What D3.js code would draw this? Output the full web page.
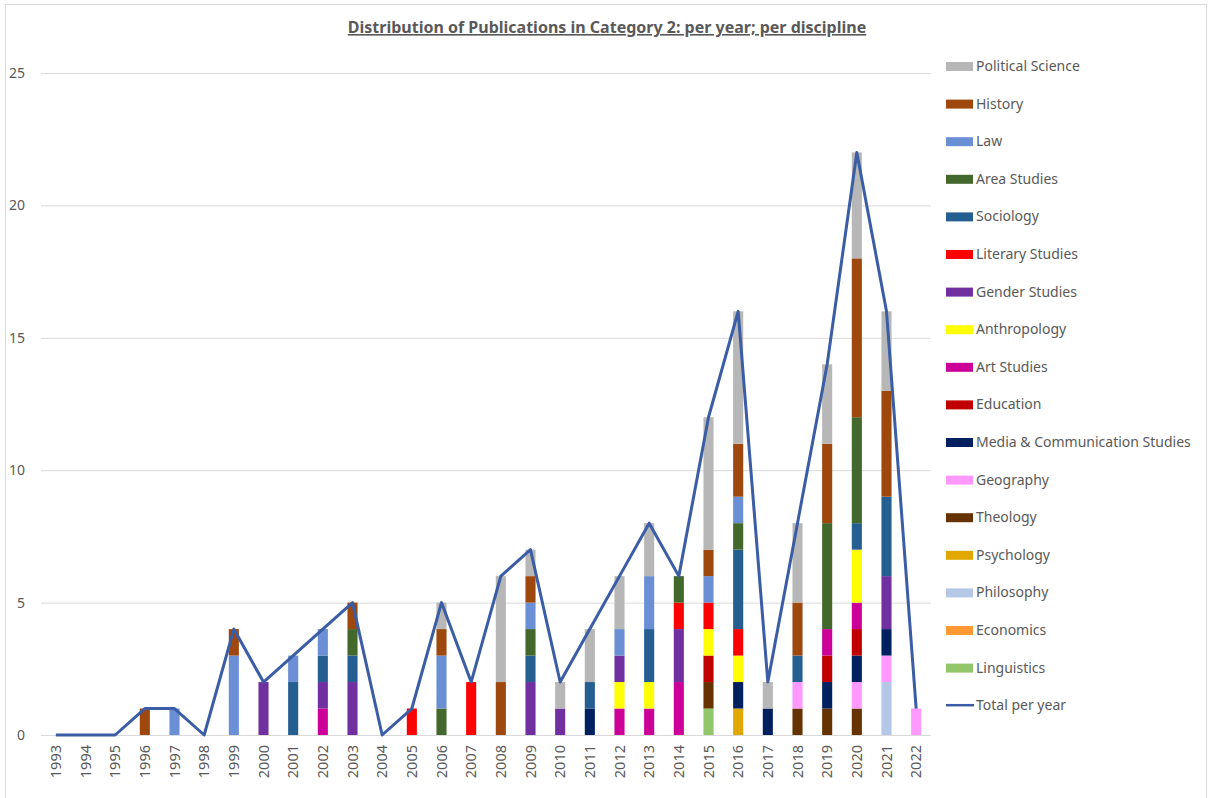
<!DOCTYPE html>
<html>
<head>
<meta charset="utf-8">
<script src="https://d3js.org/d3.v7.min.js"></script>
<style>
  body { margin: 0; background: #fff; font-family: "Noto Sans", sans-serif; }
  svg { display: block; }
</style>
</head>
<body>
<script>
// ---- data ----
const years = d3.range(1993, 2023).map(String);

const disciplines = ["Political Science", "History", "Law", "Area Studies", "Sociology",
  "Literary Studies", "Gender Studies", "Anthropology", "Art Studies", "Education",
  "Media & Communication Studies", "Geography", "Theology", "Psychology", "Philosophy",
  "Economics", "Linguistics"];

const colors = ["#b7b7b7", "#9e480e", "#6a8fd4", "#43682b", "#255e91",
  "#ff0000", "#7030a0", "#ffff00", "#cc0099", "#c00000",
  "#002060", "#ff99ff", "#663300", "#e0a800", "#b4c7e7",
  "#ff9933", "#92c66a"];

//                 1993 ...                                              ... 2022
const polSci     = [0,0,0,0,0,0,0,0,0,0,0,0,0,1,0,4,1,1,2,2,2,0,5,5,1,3,3,4,3,0];
const history    = [0,0,0,1,0,0,1,0,0,0,1,0,0,1,0,2,1,0,0,0,0,0,1,2,0,2,3,6,4,0];
const law        = [0,0,0,0,1,0,3,0,1,1,0,0,0,2,0,0,1,0,0,1,2,0,1,1,0,0,0,0,0,0];
const area       = [0,0,0,0,0,0,0,0,0,0,1,0,0,1,0,0,1,0,0,0,0,1,0,1,0,0,4,4,0,0];
const sociology  = [0,0,0,0,0,0,0,0,2,1,1,0,0,0,0,0,1,0,1,0,2,0,0,3,0,1,0,1,3,0];
const literary   = [0,0,0,0,0,0,0,0,0,0,0,0,1,0,2,0,0,0,0,0,0,1,1,1,0,0,0,0,0,0];
const gender     = [0,0,0,0,0,0,0,2,0,1,2,0,0,0,0,0,2,1,0,1,0,2,0,0,0,0,0,0,2,0];
const anthro     = [0,0,0,0,0,0,0,0,0,0,0,0,0,0,0,0,0,0,0,1,1,0,1,1,0,0,0,2,0,0];
const art        = [0,0,0,0,0,0,0,0,0,1,0,0,0,0,0,0,0,0,0,1,1,2,0,0,0,0,1,1,0,0];
const education  = [0,0,0,0,0,0,0,0,0,0,0,0,0,0,0,0,0,0,0,0,0,0,1,0,0,0,1,1,0,0];
const media      = [0,0,0,0,0,0,0,0,0,0,0,0,0,0,0,0,0,0,1,0,0,0,0,1,1,0,1,1,1,0];
const geography  = [0,0,0,0,0,0,0,0,0,0,0,0,0,0,0,0,0,0,0,0,0,0,0,0,0,1,0,1,1,1];
const theology   = [0,0,0,0,0,0,0,0,0,0,0,0,0,0,0,0,0,0,0,0,0,0,1,0,0,1,1,1,0,0];
const psychology = [0,0,0,0,0,0,0,0,0,0,0,0,0,0,0,0,0,0,0,0,0,0,0,1,0,0,0,0,0,0];
const philosophy = [0,0,0,0,0,0,0,0,0,0,0,0,0,0,0,0,0,0,0,0,0,0,0,0,0,0,0,0,2,0];
const economics  = [0,0,0,0,0,0,0,0,0,0,0,0,0,0,0,0,0,0,0,0,0,0,0,0,0,0,0,0,0,0];
const linguistics= [0,0,0,0,0,0,0,0,0,0,0,0,0,0,0,0,0,0,0,0,0,0,1,0,0,0,0,0,0,0];

const series = [polSci, history, law, area, sociology, literary, gender, anthro, art,
  education, media, geography, theology, psychology, philosophy, economics, linguistics];

const yTicks = [0, 5, 10, 15, 20, 25];

// table for the stack: one row per year
const rows = years.map((yr, i) => {
  const r = { year: yr };
  disciplines.forEach((d, k) => { r[d] = series[k][i]; });
  return r;
});
const totals = years.map((yr, i) => d3.sum(series, s => s[i]));

// ---- chart ----
const W = 1208, H = 798;
const svg = d3.select("body").append("svg").attr("width", W).attr("height", H);

// chart frame
svg.append("rect")
  .attr("x", 5.5).attr("y", 4.5).attr("width", 1201).attr("height", 820)
  .attr("fill", "none").attr("stroke", "#d9d9d9");

const x = d3.scaleBand().domain(years).range([41, 931]).paddingInner(0.66).paddingOuter(0.33);
const y = d3.scaleLinear().domain([0, 25]).range([735, 73]);
const xc = d => x(d) + x.bandwidth() / 2;

// gridlines
svg.append("g").selectAll("line").data(yTicks).join("line")
  .attr("x1", 41).attr("x2", 931)
  .attr("y1", d => y(d) + 0.5).attr("y2", d => y(d) + 0.5)
  .attr("stroke", "#d9d9d9").attr("stroke-width", 1);

// y labels
svg.append("g").selectAll("text").data(yTicks).join("text")
  .attr("x", 25).attr("y", d => y(d)).attr("dy", "0.35em")
  .attr("text-anchor", "end")
  .attr("font-size", 14).attr("fill", "#595959")
  .text(d => d);

// stacked bars, bottom = last legend entry
const stack = d3.stack().keys(disciplines.slice().reverse());
const layers = stack(rows);

svg.append("g").selectAll("g").data(layers).join("g")
  .attr("fill", l => colors[disciplines.indexOf(l.key)])
  .selectAll("rect").data(l => l.filter(p => p[1] > p[0])).join("rect")
  .attr("x", p => x(p.data.year))
  .attr("width", x.bandwidth())
  .attr("y", p => y(p[1]))
  .attr("height", p => y(p[0]) - y(p[1]));

// total line
const line = d3.line().x((d, i) => xc(years[i])).y(d => y(d));
svg.append("path").datum(totals)
  .attr("d", line)
  .attr("fill", "none").attr("stroke", "#3a5da5").attr("stroke-width", 3)
  .attr("stroke-linejoin", "round");

// x labels (rotated)
svg.append("g").selectAll("text").data(years).join("text")
  .attr("transform", d => `translate(${xc(d) + 5},745) rotate(-90)`)
  .attr("text-anchor", "end")
  .attr("font-size", 14.5).attr("fill", "#595959")
  .text(d => d);

// title
svg.append("text")
  .attr("x", 607).attr("y", 33)
  .attr("text-anchor", "middle")
  .attr("font-size", 16).attr("font-weight", "bold").attr("fill", "#595959")
  .attr("text-decoration", "underline")
  .text("Distribution of Publications in Category 2: per year; per discipline");

// legend
const legendItems = disciplines.map((d, k) => ({ name: d, color: colors[k], line: false }))
  .concat([{ name: "Total per year", color: "#3a5da5", line: true }]);
const lg = svg.append("g").selectAll("g").data(legendItems).join("g")
  .attr("transform", (d, i) => `translate(946,${66 + i * 37.6})`);
lg.filter(d => !d.line).append("rect")
  .attr("x", 0).attr("y", -4).attr("width", 27).attr("height", 9)
  .attr("fill", d => d.color);
lg.filter(d => d.line).append("line")
  .attr("x1", 0).attr("x2", 28).attr("y1", 0).attr("y2", 0)
  .attr("stroke", d => d.color).attr("stroke-width", 2.5);
lg.append("text")
  .attr("x", 30).attr("y", 0).attr("dy", "0.35em")
  .attr("font-size", 14).attr("fill", "#595959")
  .text(d => d.name);
</script>
</body>
</html>
